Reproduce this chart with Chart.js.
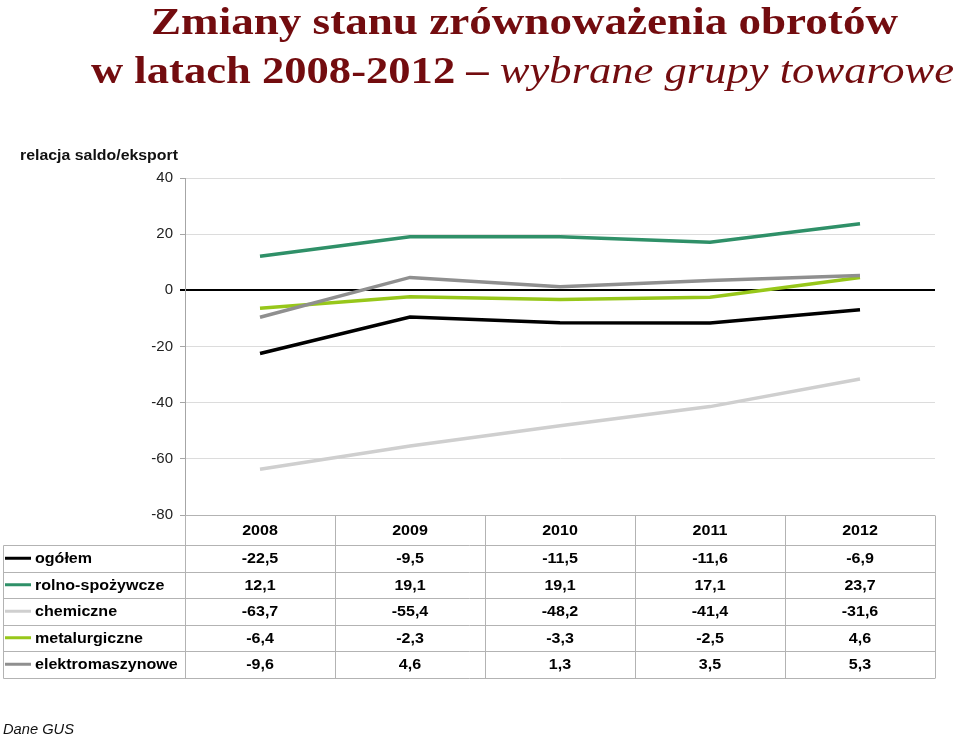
<!DOCTYPE html>
<html><head><meta charset="utf-8">
<script src="https://cdn.jsdelivr.net/npm/chart.js@4/dist/chart.umd.min.js"></script>
<style>
html,body{margin:0;padding:0;background:#fff;width:960px;height:737px;overflow:hidden;position:relative;font-family:"Liberation Sans",Arial,sans-serif}
#c{position:absolute;left:0;top:0}
.t{position:absolute;white-space:nowrap;font-family:"Liberation Serif",serif;font-weight:bold;color:#730c0f;font-size:37px;line-height:37px;transform-origin:0 0}
.t i{font-weight:normal;font-style:italic}
.lab{position:absolute;white-space:nowrap;font-size:15px;line-height:15px;transform-origin:0 0;color:#111}
</style></head>
<body>
<canvas id="c" width="960" height="737"></canvas>
<div class="t" id="t1" data-w="747" style="left:151px;top:3px">Zmiany stanu zrównoważenia obrotów</div>
<div class="t" id="t2" data-w="863" style="left:91px;top:52px">w latach 2008-2012 – <i>wybrane grupy towarowe</i></div>
<div class="lab" id="yl" data-w="158" style="left:20px;top:147px;font-weight:bold">relacja saldo/eksport</div>
<div class="lab" id="src" data-w="71" style="left:3px;top:721px;font-style:italic">Dane GUS</div>
<script>
const categories = ['2008','2009','2010','2011','2012'];
const seriesNames = ['ogółem','rolno-spożywcze','chemiczne','metalurgiczne','elektromaszynowe'];
const ogolem = [-22.5,-9.5,-11.5,-11.6,-6.9];
const rolnoSpozywcze = [12.1,19.1,19.1,17.1,23.7];
const chemiczne = [-63.7,-55.4,-48.2,-41.4,-31.6];
const metalurgiczne = [-6.4,-2.3,-3.3,-2.5,4.6];
const elektromaszynowe = [-9.6,4.6,1.3,3.5,5.3];
const seriesColors = ['#000000','#2f9068','#cfcfcf','#97c71a','#8f8f8f'];
const yMin = -80, yMax = 40, yStep = 20;

const seriesValues = [ogolem, rolnoSpozywcze, chemiczne, metalurgiczne, elektromaszynowe];

document.querySelectorAll('[data-w]').forEach(el => {
  const w = el.getBoundingClientRect().width;
  el.style.transform = 'scaleX(' + (parseFloat(el.dataset.w) / w) + ')';
});

function fmt(v){ return v.toFixed(1).replace('.', ','); }

function sText(ctx, txt, x, y, align, sx){
  ctx.save();
  ctx.translate(x, y);
  ctx.scale(sx, 1);
  ctx.textAlign = align;
  ctx.fillText(txt, 0, 0);
  ctx.restore();
}

const tablePlugin = {
  id: 'dataTable',
  afterDraw(chart){
    const ctx = chart.ctx, xs = chart.scales.x, ca = chart.chartArea;
    const step = xs.getPixelForValue(1) - xs.getPixelForValue(0);
    const top = ca.bottom, headH = 30, rowH = 26.5;
    const tLeft = 3.5;
    const bottom = top + headH + rowH * seriesNames.length;
    ctx.save();
    ctx.strokeStyle = '#b3b3b3';
    ctx.lineWidth = 1;
    ctx.beginPath();
    ctx.moveTo(ca.left, Math.round(top) + 0.5); ctx.lineTo(ca.right, Math.round(top) + 0.5);
    for (let r = 0; r <= seriesNames.length; r++) {
      const y = Math.round(top + headH + r * rowH) + 0.5;
      ctx.moveTo(tLeft, y); ctx.lineTo(ca.right, y);
    }
    ctx.moveTo(tLeft, Math.round(top + headH) + 0.5); ctx.lineTo(tLeft, Math.round(bottom) + 0.5);
    for (let i = 0; i <= categories.length; i++) {
      const x = Math.round(xs.getPixelForValue(0) - step / 2 + i * step) + 0.5;
      ctx.moveTo(x, Math.round(top) + 0.5); ctx.lineTo(x, Math.round(bottom) + 0.5);
    }
    ctx.stroke();

    ctx.fillStyle = '#000';
    ctx.font = 'bold 15px "Liberation Sans", Arial, sans-serif';
    ctx.textBaseline = 'middle';
    categories.forEach((c, i) => sText(ctx, c, xs.getPixelForValue(i), top + headH / 2 + 1, 'center', 1.07));
    seriesNames.forEach((n, r) => {
      const yc = top + headH + r * rowH + rowH / 2 + 1;
      ctx.strokeStyle = seriesColors[r];
      ctx.lineWidth = 3;
      ctx.beginPath(); ctx.moveTo(5, yc - 1); ctx.lineTo(31, yc - 1); ctx.stroke();
      ctx.fillStyle = '#000';
      sText(ctx, n, 35, yc, 'left', 1.07);
      seriesValues[r].forEach((v, i) => sText(ctx, fmt(v), xs.getPixelForValue(i), yc, 'center', 1.07));
    });
    ctx.restore();
  }
};

new Chart(document.getElementById('c'), {
  type: 'line',
  data: {
    labels: categories,
    datasets: seriesNames.map((n, i) => ({
      label: n,
      data: seriesValues[i],
      borderColor: seriesColors[i],
      backgroundColor: seriesColors[i],
      borderWidth: 3.5,
      pointRadius: 0,
      tension: 0,
      fill: false,
      order: seriesNames.length - i
    }))
  },
  options: {
    responsive: false,
    animation: false,
    devicePixelRatio: 1,
    layout: { padding: { left: 125, right: 25, top: 178, bottom: 222 } },
    plugins: { legend: { display: false }, title: { display: false }, tooltip: { enabled: false } },
    scales: {
      x: { type: 'category', offset: true, display: false },
      y: {
        min: yMin, max: yMax,
        afterFit(s){ s.width = 60; },
        border: { display: true, color: '#a6a6a6', width: 1 },
        grid: {
          color: c => c.tick && c.tick.value === 0 ? '#000' : '#dcdcdc',
          lineWidth: c => c.tick && c.tick.value === 0 ? 2 : 1,
          tickColor: c => c.tick && c.tick.value === 0 ? '#000' : '#a6a6a6',
          tickLength: 5,
          drawTicks: true
        },
        ticks: {
          stepSize: yStep,
          padding: 7,
          color: '#222',
          font: { family: '"Liberation Sans", Arial, sans-serif', size: 15 },
          callback: v => String(v)
        }
      }
    }
  },
  plugins: [tablePlugin]
});
</script>
</body></html>
